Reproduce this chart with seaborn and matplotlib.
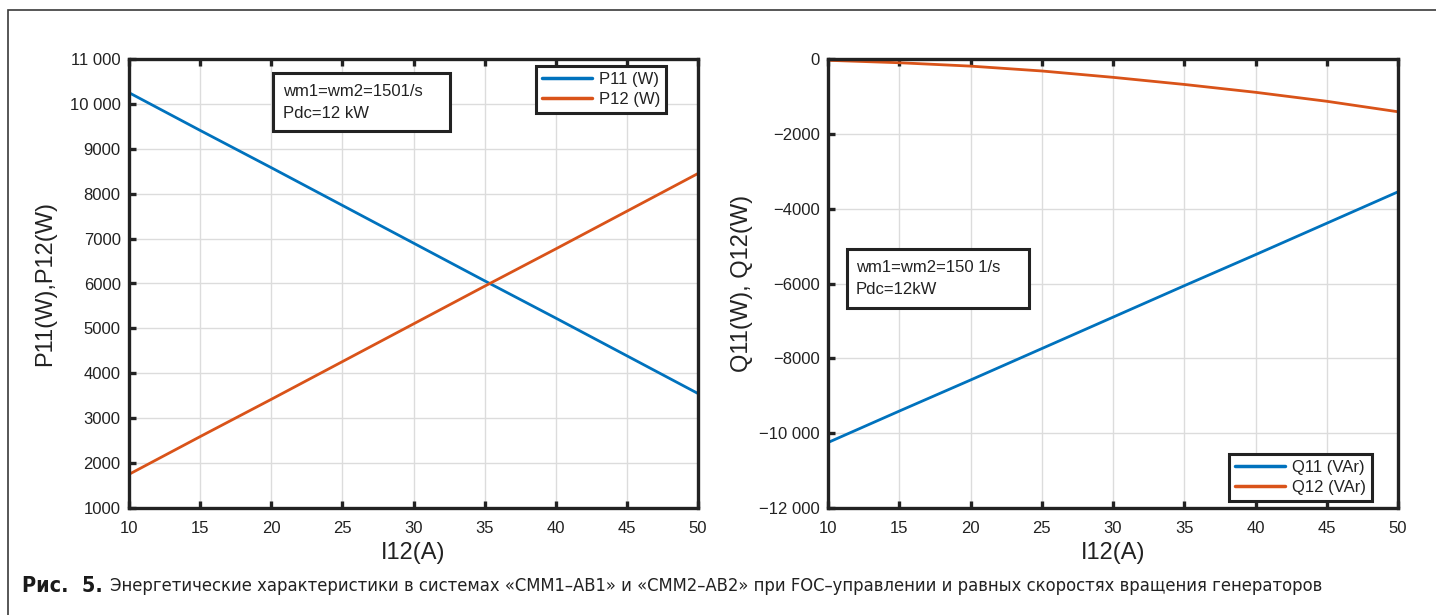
import matplotlib
matplotlib.use("Agg")
import matplotlib.pyplot as plt
from matplotlib.patches import Rectangle
from matplotlib.ticker import FuncFormatter, MultipleLocator
import numpy as np
import pandas as pd
import seaborn as sns

# Phase current of the second converter, A
current = [10, 15, 20, 25, 30, 35, 40, 45, 50]

# Active power of both channels, W
p11 = [10250, 9410, 8580, 7740, 6900, 6060, 5230, 4390, 3550]
p12 = [1750, 2590, 3420, 4260, 5100, 5940, 6770, 7610, 8450]

# Reactive power of both channels, VAr
q11 = [-10250, -9410, -8580, -7740, -6900, -6060, -5230, -4390, -3550]
q12 = [-35, -100, -190, -320, -490, -680, -890, -1130, -1410]

p_labels = ["P11 (W)", "P12 (W)"]
q_labels = ["Q11 (VAr)", "Q12 (VAr)"]
p_note = ["wm1=wm2=1501/s", "Pdc=12 kW"]
q_note = ["wm1=wm2=150 1/s", "Pdc=12kW"]
caption_bold = "Рис.  5."
caption_text = ("Энергетические характеристики в системах «СММ1–АВ1» и «СММ2–АВ2» "
                "при FOC–управлении и равных скоростях вращения генераторов")

sns.set_theme(style="white")
plt.rcParams["font.family"] = ["Liberation Sans", "DejaVu Sans"]
plt.rcParams["axes.unicode_minus"] = True

ink = "#222222"
blue = "#0072BD"
orange = "#D95319"

p_df = pd.DataFrame({
    "I12(A)": current * 2,
    "value": p11 + p12,
    "series": [p_labels[0]] * len(current) + [p_labels[1]] * len(current),
})
q_df = pd.DataFrame({
    "I12(A)": current * 2,
    "value": q11 + q12,
    "series": [q_labels[0]] * len(current) + [q_labels[1]] * len(current),
})

W, H = 1436, 615
fig = plt.figure(figsize=(W / 100, H / 100), dpi=100)
fig.patch.set_facecolor("white")
ax1 = fig.add_axes([129 / W, 1 - 508 / H, 569 / W, 449 / H])
ax2 = fig.add_axes([828 / W, 1 - 508 / H, 570 / W, 449 / H])

# outer frame of the figure panel
fig.patches.append(Rectangle((8 / W, -0.05), 1.2, 1 - 10 / H + 0.05,
                             transform=fig.transFigure, fill=False,
                             edgecolor="#3a3a3a", linewidth=1.2, zorder=0))


def thousands(v, pos):
    n = int(round(v))
    s = f"{abs(n)}"
    if abs(n) >= 10000:
        s = f"{abs(n):,}".replace(",", " ")
    return ("\u2212" if n < 0 else "") + s


for ax, df, labels in [(ax1, p_df, p_labels), (ax2, q_df, q_labels)]:
    sns.lineplot(data=df, x="I12(A)", y="value", hue="series", hue_order=labels,
                 palette=[blue, orange], linewidth=2.0, ax=ax, legend=True)
    ax.set_xlim(10, 50)
    ax.xaxis.set_major_locator(MultipleLocator(5))
    ax.yaxis.set_major_formatter(FuncFormatter(thousands))
    ax.grid(True, color="#dcdcdc", linewidth=1.0)
    for side in ["left", "bottom", "top", "right"]:
        ax.spines[side].set_visible(True)
        ax.spines[side].set_color(ink)
        ax.spines[side].set_linewidth(2.4)
    ax.tick_params(axis="both", which="major", direction="in", length=5, width=2.4,
                   color=ink, labelsize=12, labelcolor=ink,
                   top=True, bottom=True, left=True, right=False)
    ax.tick_params(axis="x", pad=9.5)
    ax.tick_params(axis="y", pad=6)
    ax.set_xlabel("I12(A)", fontsize=17, color=ink)
    ax.xaxis.set_label_coords(0.5, -0.076)

ax1.set_ylim(1000, 11000)
ax1.yaxis.set_major_locator(MultipleLocator(1000))
ax1.set_ylabel("P11(W),P12(W)", fontsize=17, color=ink)
ax1.yaxis.set_label_coords(-0.128, 0.5)

ax2.set_ylim(-12000, 0)
ax2.yaxis.set_major_locator(MultipleLocator(2000))
ax2.set_ylabel("Q11(W), Q12(W)", fontsize=17, color=ink)
ax2.yaxis.set_label_coords(-0.132, 0.5)

leg_kw = dict(fontsize=12, frameon=True, fancybox=False, handlelength=3.0,
              handletextpad=0.4, borderpad=0.35, labelspacing=0.3,
              borderaxespad=0.0, title=None)
l1 = ax1.legend(loc="upper right", bbox_to_anchor=(0.944, 0.984), **leg_kw)
l2 = ax2.legend(loc="lower right", bbox_to_anchor=(0.954, 0.016), **leg_kw)
for leg in (l1, l2):
    fr = leg.get_frame()
    fr.set_edgecolor(ink)
    fr.set_linewidth(2.2)
    fr.set_alpha(1)
    for t in leg.get_texts():
        t.set_color(ink)
    for h in leg.get_lines():
        h.set_linewidth(2.5)


def note_box(ax, px_box, lines, line_y, text_x):
    """Framed annotation; px_box = (x0, y0, x1, y1) in figure pixels (y down)."""
    x0, y0, x1, y1 = px_box
    inv = ax.transAxes.inverted()
    (ax0, ay1), (ax1_, ay0) = inv.transform([(x0, H - y0), (x1, H - y1)])
    ax.add_patch(Rectangle((ax0, ay0), ax1_ - ax0, ay1 - ay0, transform=ax.transAxes,
                           facecolor="white", edgecolor=ink, linewidth=2.2,
                           zorder=5))
    for txt, ly in zip(lines, line_y):
        tx, ty = inv.transform((text_x, H - ly))
        ax.text(tx, ty, txt, transform=ax.transAxes, fontsize=12, color=ink,
                va="center", ha="left", zorder=6)


note_box(ax1, (273, 73, 450, 131), p_note, (92, 114), 283)
note_box(ax2, (847, 249, 1029, 308), q_note, (267, 290), 856)

# caption below both panels, in a condensed face
cap_font = ["DejaVu Sans", "Liberation Sans"]
cap_y = 1 - 586 / H
t_bold = fig.text(22 / W, cap_y, caption_bold, fontsize=15.5,
                  fontweight="heavy", family=cap_font, fontstretch="condensed",
                  color="#1a1a1a", va="center")
fig.canvas.draw()
renderer = fig.canvas.get_renderer()
bb = t_bold.get_window_extent(renderer=renderer)
t_cap = fig.text((bb.x1 + 7) / W, cap_y, caption_text, fontsize=13.5,
                 family=cap_font, fontstretch="condensed", color=ink, va="center")
# fit the caption line so it ends where the panel text ends
cb = t_cap.get_window_extent(renderer=renderer)
t_cap.set_fontsize(13.5 * (1320 - cb.x0) / cb.width)

fig.savefig("out.png", dpi=100, facecolor="white")
